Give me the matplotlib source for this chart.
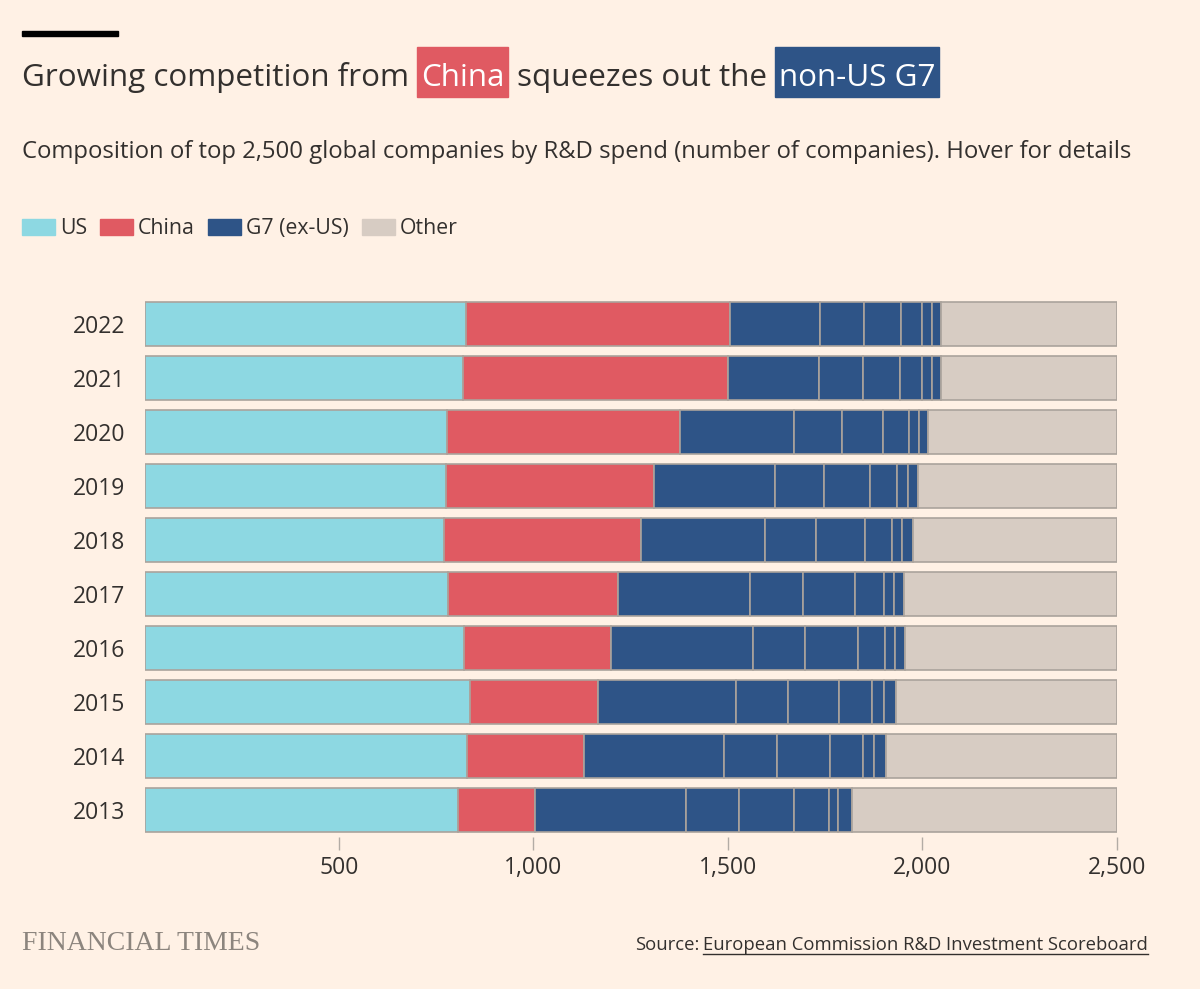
import matplotlib
matplotlib.use("Agg")
import matplotlib.pyplot as plt
from matplotlib.patches import Rectangle
from matplotlib.lines import Line2D

# top 2,500 R&D spenders, number of companies per group
years = ["2013", "2014", "2015", "2016", "2017", "2018", "2019", "2020", "2021", "2022"]
us = [805, 829, 838, 822, 779, 769, 775, 778, 820, 826]
china = [198, 301, 328, 377, 437, 508, 536, 598, 680, 680]
# G7 ex-US, one block per country
japan = [388, 361, 355, 365, 340, 317, 310, 294, 233, 230]
germany = [138, 136, 132, 135, 136, 131, 125, 123, 114, 113]
uk = [140, 136, 133, 134, 135, 128, 120, 106, 96, 96]
france = [90, 84, 84, 71, 74, 68, 68, 66, 57, 54]
italy = [25, 29, 31, 26, 27, 27, 29, 25, 25, 25]
canada = [36, 30, 31, 25, 25, 27, 25, 23, 22, 23]
other = [680, 594, 568, 545, 547, 525, 512, 487, 453, 453]

xticks = [500, 1000, 1500, 2000, 2500]
xticklabels = ["500", "1,000", "1,500", "2,000", "2,500"]

legend_names = ["US", "China", "G7 (ex-US)", "Other"]

BG = "#fff1e5"
C_US = "#8dd8e2"
C_CN = "#e05a62"
C_G7 = "#2e5487"
C_OT = "#d7ccc3"
TXT = "#33302e"
EDGE = "#aaa39c"

W, H = 1200, 989
FONT = "Open Sans"

fig = plt.figure(figsize=(W / 100, H / 100), dpi=100, facecolor=BG)
renderer = fig.canvas.get_renderer()


def px(x):
    return x / W


def py(y):
    return 1 - y / H


# chart area
ax = fig.add_axes([px(144.5), py(837), px(1117) - px(144.5), (837 - 297) / H])
ax.set_facecolor(BG)

ypos = list(range(len(years)))
segments = [(us, C_US), (china, C_CN), (japan, C_G7), (germany, C_G7),
            (uk, C_G7), (france, C_G7), (italy, C_G7), (canada, C_G7), (other, C_OT)]
left = [0] * len(years)
for vals, col in segments:
    ax.barh(ypos, vals, left=left, height=0.815, color=col,
            edgecolor=EDGE, linewidth=1.2)
    left = [a + b for a, b in zip(left, vals)]

ax.set_xlim(0, 2500)
ax.set_ylim(-0.5, len(years) - 0.5)
for s in ax.spines.values():
    s.set_visible(False)
ax.set_yticks(ypos)
ax.set_yticklabels(years, fontsize=16.5, color=TXT, family=FONT)
ax.tick_params(axis="y", length=0, pad=14)
ax.set_xticks(xticks)
ax.set_xticklabels(xticklabels, fontsize=16.5, color=TXT, family=FONT)
ax.tick_params(axis="x", length=9, width=1, color="#b3aca5", pad=5)

# black bar on top
fig.patches.append(Rectangle((px(22), py(36)), px(118) - px(22), 5 / H,
                             transform=fig.transFigure, color="black"))


def chain(pieces, x0, y_base, size):
    """pieces: (text, text colour, box colour or None). y_base in pixels from top."""
    x = x0
    sp = fig.text(0, 0, "a a", fontsize=size, family=FONT)
    sp2 = fig.text(0, 0, "aa", fontsize=size, family=FONT)
    space = sp.get_window_extent(renderer).width - sp2.get_window_extent(renderer).width
    sp.remove()
    sp2.remove()
    for txt, col, box in pieces:
        pad = 4 if box else 0
        t = fig.text(px(x + pad), py(y_base), txt, fontsize=size, color=col,
                     family=FONT, va="baseline", ha="left", zorder=3)
        w = t.get_window_extent(renderer).width
        if box:
            fig.patches.append(Rectangle((px(x), py(97)), (w + 2 * pad) / W, 50 / H,
                                         transform=fig.transFigure, color=box, zorder=2))
        x += w + 2 * pad + space


chain([("Growing competition from", TXT, None),
       ("China", "white", C_CN),
       ("squeezes out the", TXT, None),
       ("non-US G7", "white", C_G7)], 22, 86, 22.6)

fig.text(px(22), py(158), "Composition of top 2,500 global companies by R&D spend "
         "(number of companies). Hover for details",
         fontsize=17.2, color=TXT, family=FONT, va="baseline")

# legend
x = 22
for name, col in zip(legend_names, [C_US, C_CN, C_G7, C_OT]):
    fig.patches.append(Rectangle((px(x), py(235)), 33 / W, 16 / H,
                                 transform=fig.transFigure, color=col))
    t = fig.text(px(x + 38), py(234), name, fontsize=15.3, color=TXT,
                 family=FONT, va="baseline")
    x += 38 + t.get_window_extent(renderer).width + 13

# footer
fig.text(px(22), py(950), "FINANCIAL TIMES", fontsize=20, color="#8c857e",
         family="Liberation Serif", va="baseline")
src_b = fig.text(px(1148), py(950), "European Commission R&D Investment Scoreboard",
                 fontsize=13.3, color=TXT, family=FONT, va="baseline", ha="right")
bw = src_b.get_window_extent(renderer).width
fig.text(px(1148 - bw - 4), py(950), "Source:", fontsize=13.3, color=TXT,
         family=FONT, va="baseline", ha="right")
fig.lines.append(Line2D([px(1148 - bw), px(1148)], [py(953.5), py(953.5)],
                        transform=fig.transFigure, color=TXT, linewidth=1))

fig.savefig("out.png", dpi=100, facecolor=BG)
